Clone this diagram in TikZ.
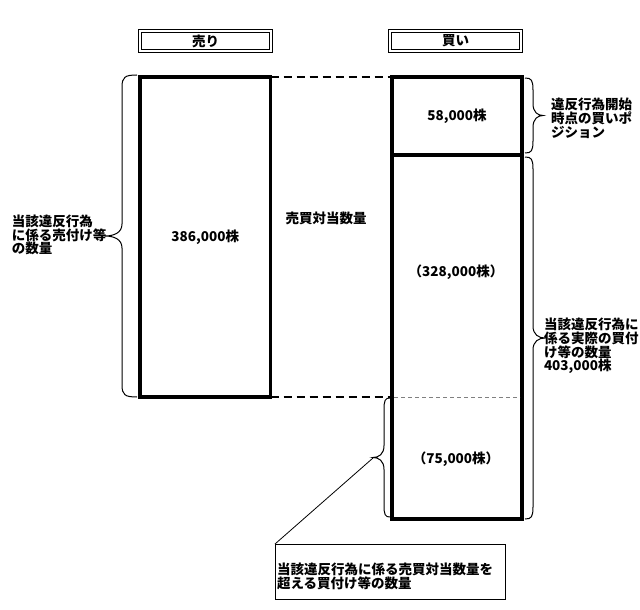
\documentclass[tikz,border=0pt]{standalone}
\usepackage{fontspec}
\setmainfont{Noto Sans CJK JP}
\usetikzlibrary{calc}
\tikzset{
  x=1pt, y=-1pt,
  every node/.style={font=\fontsize{13.5}{13.8}\selectfont\bfseries, inner sep=0pt, outer sep=0pt},
  bigbox/.style={draw, line width=3.5pt, anchor=north west, minimum width=#1},
  hdrbox/.style={draw, line width=0.9pt, minimum width=134, minimum height=23},
  hdrinner/.style={line width=0.9pt},
  linkdash/.style={line width=2pt, dash pattern=on 8pt off 5pt},
  thindash/.style={line width=0.7pt, gray, dash pattern=on 4pt off 3pt},
  bracepath/.style={line width=1pt},
  notebox/.style={draw, line width=1pt, anchor=north west, minimum width=230, minimum height=55},
  lbl/.style={align=left, anchor=west},
}
% #1 edge x, #2 vertical x, #3 tip x, #4 top y, #5 bottom y
\newcommand\vbrace[5]{%
  \pgfmathsetmacro\bmid{(#4+#5)/2}%
  \pgfmathsetmacro\bdir{(#3-#2)}%
  \draw[bracepath] (#1,#4) .. controls ({#2+0.2*(#1-#2)},#4) and (#2,{#4+2}) .. (#2,{#4+12})
     -- (#2,{\bmid-12}) .. controls (#2,{\bmid-3}) and ({#2+0.5*\bdir},\bmid) .. (#3,\bmid)
     .. controls ({#2+0.5*\bdir},\bmid) and (#2,{\bmid+3}) .. (#2,{\bmid+12})
     -- (#2,{#5-12}) .. controls (#2,{#5-2}) and ({#2+0.2*(#1-#2)},#5) .. (#1,#5);}
\begin{document}
\begin{tikzpicture}
\useasboundingbox (0,0) rectangle (640,610);
% headers
\node[hdrbox] (hsell) at (205.5,41) {売り};
\node[hdrbox] (hbuy) at (455.5,41) {買い};
\draw[hdrinner] ($(hsell.north west)+(3,3)$) rectangle ($(hsell.south east)+(-3,-3)$);
\draw[hdrinner] ($(hbuy.north west)+(3,3)$) rectangle ($(hbuy.south east)+(-3,-3)$);
% main boxes
\node[bigbox=130.5, minimum height=320] (sell) at (140,77) {};
\node[bigbox=130, minimum height=78] (btop) at (392,77) {};
\node[bigbox=130, minimum height=364] (bbot) at (392,155) {};
\node at (sell.center) {386,000株};
\node at (btop.center) {58,000株};
\node at (456,272) {（328,000株）};
\node at (456,459) {（75,000株）};
\node at (326,218) {売買対当数量};
% connectors
\draw[linkdash] (sell.north east) -- (btop.north west);
\coordinate (lowL) at (sell.south east -| bbot.west);
\coordinate (lowR) at (sell.south east -| bbot.east);
\draw[linkdash] (sell.south east) -- (lowL);
\draw[thindash] (lowL) ++(2,0) -- ($(lowR)+(-2,0)$);
% braces
\vbrace{137}{122}{105}{75}{397}
\vbrace{525}{533}{543}{78}{153}
\vbrace{525}{533}{545}{157}{519}
\vbrace{390}{384}{373}{398}{517}
% labels
\node[lbl] (lsell) at (12,235) {当該違反行為\\に係る売付け等\\の数量};
\node[lbl] (lpos) at (551,118) {違反行為開始\\時点の買いポ\\ジション};
\node[lbl] (lact) at (544,346) {当該違反行為に\\係る実際の買付\\け等の数量\\403,000株};
% callout
\coordinate (tip) at (373,458);
\node[notebox] (note) at (275,544) {};
\node[lbl] (notetext) at ($(note.west)+(2,5)$) {当該違反行為に係る売買対当数量を\\超える買付け等の数量};
\draw[line width=0.8pt] (tip) -- (note.north west);
\end{tikzpicture}
\end{document}
